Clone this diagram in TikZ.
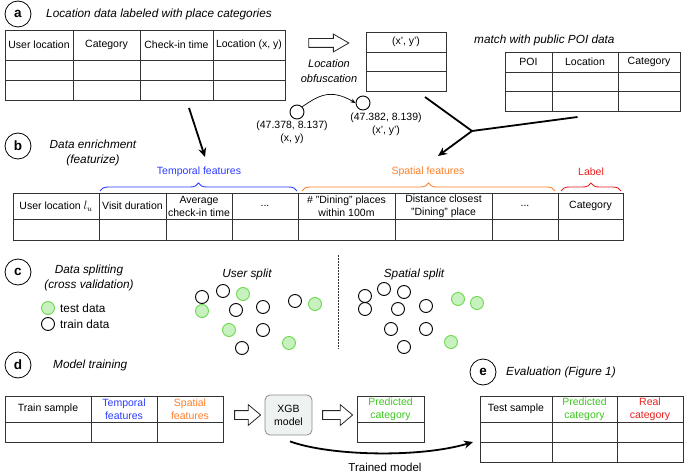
\documentclass[tikz,border=0pt]{standalone}
\usepackage{fontspec}
\setmainfont{Liberation Sans}
\usetikzlibrary{arrows.meta,shapes.arrows,decorations.pathreplacing}
\definecolor{tline}{HTML}{333333}
\definecolor{tblue}{HTML}{2B3BFF}
\definecolor{torange}{HTML}{FF7F2A}
\definecolor{tred}{HTML}{E8201E}
\definecolor{tgreen}{HTML}{3CC81E}
\definecolor{gfill}{HTML}{C8F1C0}
\definecolor{gdraw}{HTML}{6BD84E}
\definecolor{xgbfill}{HTML}{EEF2F1}
\definecolor{xgbdraw}{HTML}{8A8A8A}
\begin{document}
\begin{tikzpicture}[x=1pt,y=-1pt,
 every node/.style={font=\fontsize{10.5}{13}\selectfont},
 tbl/.style={draw=tline, line width=0.8pt, inner sep=0pt, outer sep=0pt, anchor=north west},
 grid/.style={draw=tline, line width=0.8pt},
 hd/.style={align=center, inner sep=0pt},
 ttl/.style={font=\fontsize{11.8}{15}\selectfont\itshape, inner sep=0pt, align=center},
 lgd/.style={font=\fontsize{11.8}{14}\selectfont, inner sep=0pt, anchor=west},
 letter/.style={circle, draw=black, line width=0.8pt, minimum size=26pt, inner sep=0pt, font=\fontsize{13.5}{13.5}\selectfont\bfseries},
 dot/.style={circle, draw=black, line width=0.9pt, minimum size=13pt, inner sep=0pt},
 gdot/.style={circle, draw=gdraw, fill=gfill, line width=0.9pt, minimum size=13pt, inner sep=0pt},
 harrow/.style={single arrow, draw=black!85, line width=0.8pt, inner xsep=0pt, inner ysep=4pt, text width=0pt, single arrow head extend=5pt},
 bigarrow/.style={line width=1.8pt, -{Stealth[length=9pt,width=8pt]}},
 thinarrow/.style={line width=0.7pt, -{Stealth[length=5pt,width=4pt]}},
 brace/.style={decorate, decoration={brace, amplitude=8pt}, line width=0.9pt},
]
\useasboundingbox (0,0) rectangle (685,473);

% ---------------- section a
\node[letter] (la) at (18,14) {a};
\node[ttl, anchor=west] (ta) at (46,14) {Location data labeled with place categories};

\node[tbl, minimum width=280pt, minimum height=70pt] (tA) at (5,30) {};
\draw[grid] (73,30) -- (73,100) (140,30) -- (140,100) (213,30) -- (213,100)
            (5,60) -- (285,60) (5,80) -- (285,80);
\node[hd] (hA1) at (39,45) {User location};
\node[hd] (hA2) at (106.5,45) {Category};
\node[hd] (hA3) at (176.5,45) {Check-in time};
\node[hd] (hA4) at (249,45) {Location (x, y)};

\node[harrow, minimum height=40pt, single arrow head extend=4.5pt, single arrow tip angle=60] (ha1) at (325,43) {};
\node[ttl, font=\fontsize{11}{15}\selectfont\itshape] (tobf) at (329,71) {Location\\obfuscation};

\node[tbl, minimum width=80pt, minimum height=59pt] (tXY) at (366,32) {};
\draw[grid] (366,52) -- (446,52) (366,71) -- (446,71);
\node[hd] (hXY) at (406,42) {(x', y')};

\node[ttl, anchor=west] (tmatch) at (474,40) {match with public POI data};
\node[tbl, minimum width=175pt, minimum height=59pt] (tPOI) at (505,52) {};
\draw[grid] (552,52) -- (552,111) (618,52) -- (618,111)
            (505,72) -- (680,72) (505,91) -- (680,91);
\node[hd] (hP1) at (528.5,62) {POI};
\node[hd] (hP2) at (585,62) {Location};
\node[hd] (hP3) at (649,62) {Category};

\node[dot, minimum size=14pt] (p1) at (297,112) {};
\node[dot, minimum size=14pt] (p2) at (363,103) {};
\node[hd] (lp1) at (292,132) {(47.378, 8.137)\\(x, y)};
\node[hd] (lp2) at (386,124.5) {(47.382, 8.139)\\(x', y')};
\draw[thinarrow] (p1.north east) .. controls (318,96) and (330,88) .. (p2.west);

% ---------------- section b
\node[letter] (lb) at (18,146) {b};
\node[ttl] (tb) at (93,153) {Data enrichment\\(featurize)};

\node[tbl, minimum width=610pt, minimum height=47pt] (tB) at (13,193) {};
\draw[grid] (99,193) -- (99,240) (166,193) -- (166,240) (232,193) -- (232,240)
            (298,193) -- (298,240) (395,193) -- (395,240) (492,193) -- (492,240)
            (558,193) -- (558,240) (13,219) -- (623,219);
\node[hd] (hB1) at (56,206) {User location {\large$l_u$}};
\node[hd] (hB2) at (132.5,206) {Visit duration};
\node[hd] (hB3) at (199,206) {Average\\check-in time};
\node[hd] (hB4) at (265,206) {...};
\node[hd] (hB5) at (346.5,206) {\# "Dining" places\\within 100m};
\node[hd] (hB6) at (443.5,206) {Distance closest\\"Dining" place};
\node[hd] (hB7) at (525,206) {...};
\node[hd] (hB8) at (590.5,206) {Category};

\draw[brace, tblue] (100,191) -- (297,191);
\draw[brace, torange] (302,191) -- (555,191);
\draw[brace, tred] (561,191) -- (621,191);
\node[hd, text=tblue] (btemp) at (199,172) {Temporal features};
\node[hd, text=torange] (bspat) at (428,172) {Spatial features};
\node[hd, text=tred] (blab) at (591,172) {Label};

\draw[bigarrow] ([xshift=44pt,yshift=-8pt]tA.south) -- ([xshift=-113pt,yshift=36pt]tB.north);
\coordinate (J) at (472,131);
\draw[line width=1.8pt] ([xshift=19pt,yshift=-6pt]tXY.south) -- (J) -- ([xshift=-15pt,yshift=-6pt]tPOI.south);
\draw[bigarrow] (J) -- ([xshift=120pt,yshift=37pt]tB.north);

% ---------------- section c
\node[letter] (lc) at (18,272) {c};
\node[ttl] (tc) at (89,278) {Data splitting\\(cross validation)};
\node[gdot] (lg1) at (48,308) {};
\node[lgd] (lgt1) at (60,308) {test data};
\node[dot] (lg2) at (48,324) {};
\node[lgd] (lgt2) at (60,324) {train data};

\node[ttl] (tus) at (247,274) {User split};
\node[dot]  (u1) at (202,297) {};
\node[dot]  (u2) at (223,291) {};
\node[gdot] (u3) at (243,294) {};
\node[gdot] (u4) at (202,311) {};
\node[dot]  (u5) at (236,310) {};
\node[dot]  (u6) at (263,307) {};
\node[dot]  (u7) at (295,301) {};
\node[gdot] (u8) at (315,304) {};
\node[gdot] (u9) at (229,330) {};
\node[dot]  (u10) at (263,330) {};
\node[gdot] (u11) at (289,343) {};
\node[dot]  (u12) at (242,348) {};

\draw[black!80, line width=0.7pt, dash pattern=on 1.6pt off 1.4pt] (338,255) -- (338,349);

\node[ttl] (tss) at (414,274) {Spatial split};
\node[dot]  (s1) at (365,296) {};
\node[dot]  (s2) at (384,289) {};
\node[dot]  (s3) at (404,292) {};
\node[dot]  (s4) at (365,309) {};
\node[dot]  (s5) at (398,309) {};
\node[dot]  (s6) at (426,306) {};
\node[gdot] (s7) at (458,299) {};
\node[gdot] (s8) at (477,303) {};
\node[dot]  (s9) at (391,329) {};
\node[dot]  (s10) at (426,329) {};
\node[gdot] (s11) at (451,342) {};
\node[dot]  (s12) at (404,347) {};

% ---------------- section d
\node[letter] (ld) at (18,365) {d};
\node[ttl, anchor=west] (td) at (53,365) {Model training};

\node[tbl, minimum width=218pt, minimum height=46pt] (tD) at (5,396) {};
\draw[grid] (91,396) -- (91,442) (157,396) -- (157,442) (5,422) -- (223,422);
\node[hd] (hD1) at (48,409) {Train sample};
\node[hd, text=tblue] (hD2) at (124,409) {Temporal\\features};
\node[hd, text=torange] (hD3) at (190,409) {Spatial\\features};

\node[harrow, minimum height=26pt, single arrow head extend=6pt, single arrow tip angle=80] (ha2) at (245,415) {};
\node[draw=xgbdraw, fill=xgbfill, line width=0.8pt, rounded corners=5pt, minimum width=47pt, minimum height=40pt, align=center, inner sep=0pt] (xgb) at (288.5,415) {XGB\\model};
\node[harrow, minimum height=30pt, single arrow head extend=6pt, single arrow tip angle=80] (ha3) at (335,415) {};

\node[tbl, minimum width=67pt, minimum height=46pt] (tPr) at (357,396) {};
\draw[grid] (357,422) -- (424,422);
\node[hd, text=tgreen] (hPr) at (390.5,409) {Predicted\\category};

% ---------------- section e
\node[letter] (le) at (483,372) {e};
\node[ttl, anchor=west] (te) at (506,372) {Evaluation (Figure 1)};

\node[tbl, minimum width=203pt, minimum height=66pt] (tE) at (480,396) {};
\draw[grid] (552,396) -- (552,462) (617,396) -- (617,462)
            (480,422) -- (683,422) (480,442) -- (683,442);
\node[hd] (hE1) at (516,409) {Test sample};
\node[hd, text=tgreen] (hE2) at (584.5,409) {Predicted\\category};
\node[hd, text=tred] (hE3) at (650,409) {Real\\category};

\draw[bigarrow] ([xshift=1.5pt,yshift=-6pt]xgb.south) .. controls (330,456) and (420,458) .. ([xshift=-7pt,yshift=-13pt]tE.west);
\node[hd, font=\fontsize{11.5}{13}\selectfont] (ttm) at (385,467) {Trained model};
\end{tikzpicture}
\end{document}
